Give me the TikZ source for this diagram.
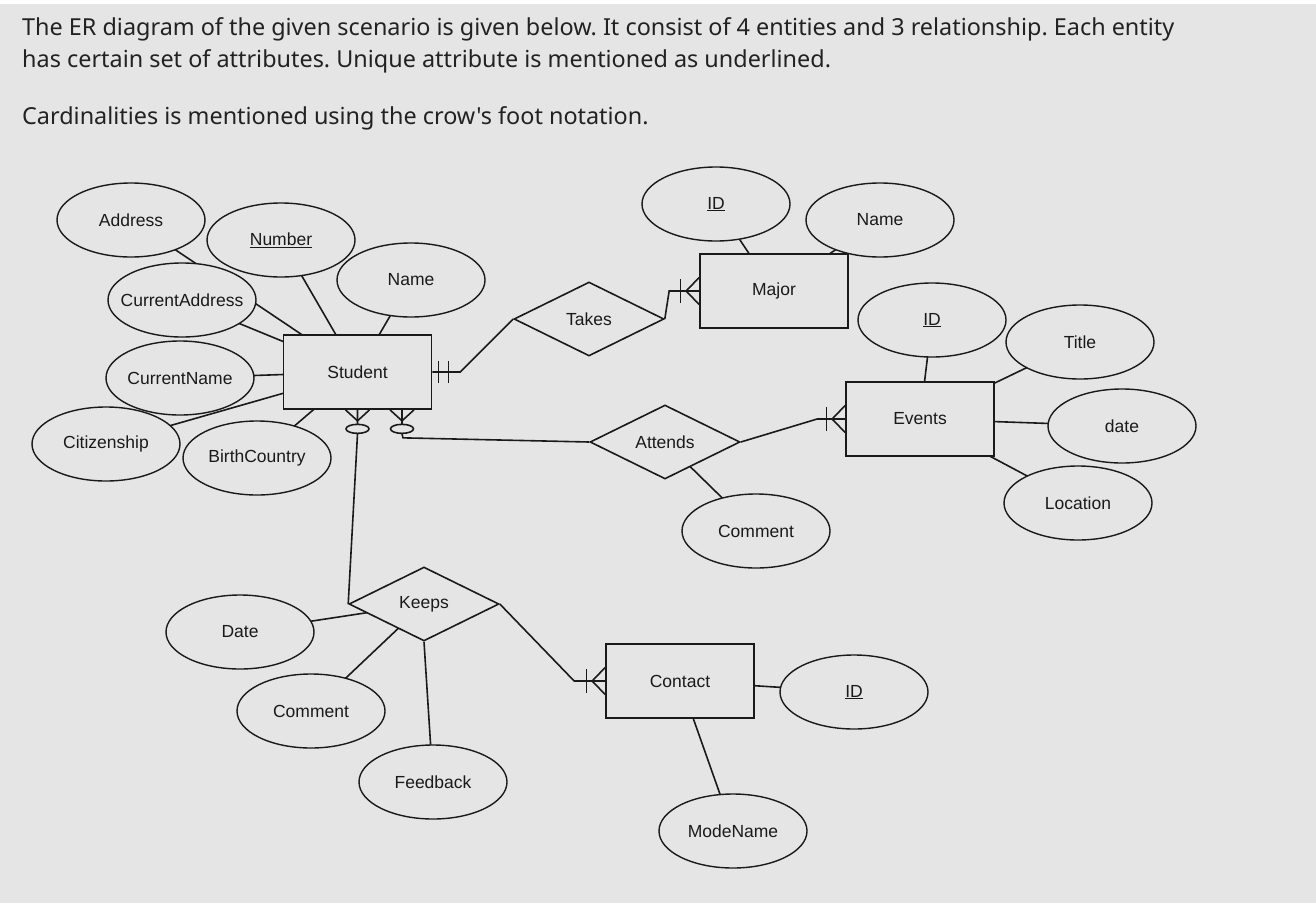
\documentclass[tikz,border=0pt]{standalone}
\usepackage{fontspec}
\setmainfont{Liberation Sans}
\newfontfamily\hdrfont{Noto Sans}
\usetikzlibrary{shapes.geometric,calc}
\definecolor{bgc}{HTML}{E5E5E5}
\definecolor{ink}{HTML}{1A1A1A}
\definecolor{hdrc}{HTML}{222222}
\newcommand\zw[1]{\makebox[0pt]{#1}}
\pgfdeclarelayer{bgl}\pgfdeclarelayer{lnl}\pgfsetlayers{bgl,lnl,main}
\frenchspacing
\begin{document}
\begin{tikzpicture}[x=1pt,y=-1pt,
 every node/.style={font=\fontsize{17.5}{20}\selectfont, text=ink},
 attr/.style={ellipse, draw=ink, line width=1.4pt, fill=bgc, minimum width=148pt, minimum height=74pt, inner sep=0pt},
 ent/.style={rectangle, draw=ink, line width=1.7pt, fill=bgc, minimum width=148pt, minimum height=74pt, inner sep=0pt},
 rel/.style={diamond, draw=ink, line width=1.6pt, fill=bgc, minimum width=150pt, minimum height=74pt, inner sep=0pt},
 conn/.style={draw=ink, line width=1.6pt},
 mark1/.style={draw=ink, line width=1.6pt},
 hdr/.style={anchor=base west, inner sep=0pt, font=\hdrfont\fontsize{23.4}{28}\selectfont, text=hdrc}]
\useasboundingbox (0,0) rectangle (1316,910);
\begin{pgfonlayer}{bgl}
\fill[white] (0,0) rectangle (1316,910);
\fill[bgc] (0,4) rectangle (1316,903);
\end{pgfonlayer}

% header
\node[hdr] (h1) at (22,35) {The ER diagram of the given scenario is given below. It consist of 4 entities and 3 relationship. Each entity};
\node[hdr] (h2) at (22,67) {has certain set of attributes. Unique attribute is mentioned as underlined.};
\node[hdr] (h3) at (22,124) {Cardinalities is mentioned using the crow's foot notation.};

% entities
\node[ent] (student) at (357.5,372) {Student};
\node[ent] (major) at (774,291) {Major};
\node[ent] (events) at (920,419) {Events};
\node[ent] (contact) at (680,681) {Contact};
% relationships
\node[rel] (takes) at (589,319) {Takes};
\node[rel] (attends) at (665,442) {Attends};
\node[rel] (keeps) at (424,604) {Keeps};
% attributes
\node[attr] (address) at (131,220) {\zw{Address}};
\node[attr] (number) at (281,240) {\zw{\underline{Number}}};
\node[attr] (sname) at (411,280) {\zw{Name}};
\node[attr] (curaddr) at (182,300) {\zw{CurrentAddress}};
\node[attr] (curname) at (180,378) {\zw{CurrentName}};
\node[attr] (citizen) at (106,444) {\zw{Citizenship}};
\node[attr] (birth) at (257,458) {\zw{BirthCountry}};
\node[attr] (majid) at (716,204) {\zw{\underline{ID}}};
\node[attr] (majname) at (880,220) {\zw{Name}};
\node[attr] (evid) at (932,320) {\zw{\underline{ID}}};
\node[attr] (evtitle) at (1080,342) {\zw{Title}};
\node[attr] (evdate) at (1122,426) {\zw{date}};
\node[attr] (evloc) at (1078,503) {\zw{Location}};
\node[attr] (attcomment) at (756,531) {\zw{Comment}};
\node[attr] (kdate) at (240,632) {\zw{Date}};
\node[attr] (kcomment) at (311,711) {\zw{Comment}};
\node[attr] (kfeedback) at (433,782) {\zw{Feedback}};
\node[attr] (cid) at (854,692) {\zw{\underline{ID}}};
\node[attr] (cmode) at (733,831) {\zw{ModeName}};

\begin{pgfonlayer}{lnl}
% attribute links
\foreach \a in {address,number,sname,curaddr,curname,citizen,birth}
  \draw[conn] (\a.center) -- (student.center);
\foreach \a in {majid,majname}
  \draw[conn] (\a.center) -- (major.center);
\foreach \a in {evid,evtitle,evdate,evloc}
  \draw[conn] (\a.center) -- (events.center);
\foreach \a in {cid,cmode}
  \draw[conn] (\a.center) -- (contact.center);
\draw[conn] (attcomment.center) -- (attends.center);
\draw[conn] (kdate.center) -- (keeps.center);
\draw[conn] (kcomment.center) -- (keeps.center);
\draw[conn] (kfeedback.center) -- (keeps.south);
% relationship links
\draw[conn] (student.east) -- ($(student.east)+(28,0)$) -- (takes.west);
\draw[conn] (takes.east) -- ($(major.west)+(-30,0)$) -- (major.west);
\draw[conn] (attends.east) -- ($(events.west)+(-28,0)$) -- (events.west);
\draw[conn] (keeps.east) -- ($(contact.west)+(-31,0)$) -- (contact.west);
\draw[conn] (student.south) -- ($(student.south)+(0,24)$) -- (keeps.west);
\draw[conn] ($(student.south)+(44.5,0)$) -- ($(student.south)+(44.5,24)$) -- ($(student.south)+(45.5,28)$) -- (attends.west);
\end{pgfonlayer}

% cardinality marks
% Student: exactly one (Takes)
\draw[mark1] ($(student.east)+(6,-11)$) -- ($(student.east)+(6,11)$);
\draw[mark1] ($(student.east)+(16,-11)$) -- ($(student.east)+(16,11)$);
% Student: zero or many (Keeps, Attends)
\draw[mark1] ($(student.south)+(-12,0)$) -- ($(student.south)+(0,11)$) -- ($(student.south)+(12,0)$);
\draw[mark1, fill=bgc] ($(student.south)+(0,19)$) ellipse [x radius=11.5pt, y radius=4.5pt];
\draw[mark1] ($(student.south)+(32.5,0)$) -- ($(student.south)+(44.5,11)$) -- ($(student.south)+(56.5,0)$);
\draw[mark1, fill=bgc] ($(student.south)+(44.5,19)$) ellipse [x radius=11.5pt, y radius=4.5pt];
% one or many at Major, Events, Contact
\foreach \e in {major,events,contact}{
  \draw[mark1] ($(\e.west)+(0,-13.5)$) -- ($(\e.west)+(-13,0)$) -- ($(\e.west)+(0,13.5)$);
  \draw[mark1] ($(\e.west)+(-18.5,-12)$) -- ($(\e.west)+(-18.5,12)$);
}
\end{tikzpicture}
\end{document}
